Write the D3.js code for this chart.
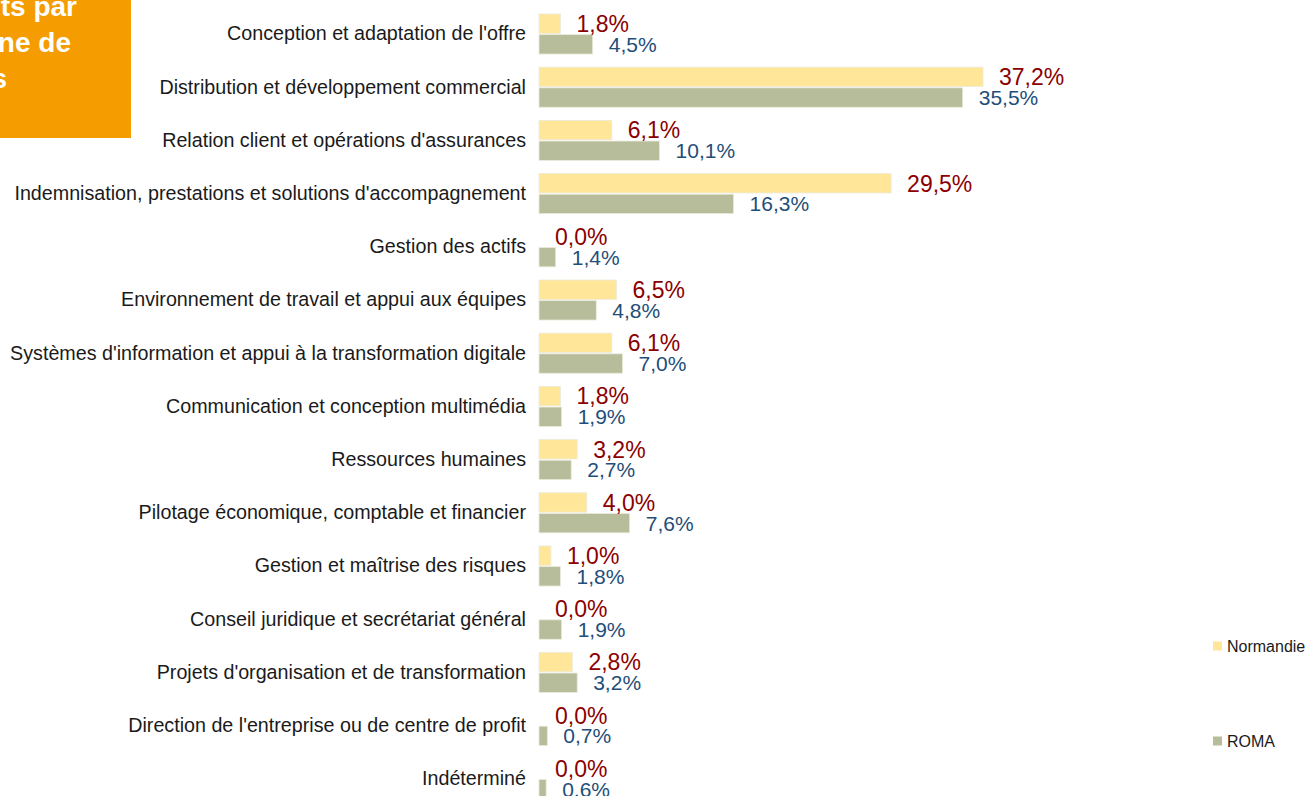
<!DOCTYPE html>
<html><head><meta charset="utf-8">
<script src="https://cdn.jsdelivr.net/npm/d3@7/dist/d3.min.js"></script>
<style>
html,body{margin:0;padding:0;background:#fff;overflow:hidden;}
svg{display:block;font-family:"Liberation Sans",Arial,sans-serif;}
</style></head>
<body>
<svg id="chart" width="1316" height="796"></svg>
<script>
const categories = [
  "Conception et adaptation de l'offre",
  "Distribution et développement commercial",
  "Relation client et opérations d'assurances",
  "Indemnisation, prestations et solutions d'accompagnement",
  "Gestion des actifs",
  "Environnement de travail et appui aux équipes",
  "Systèmes d'information et appui à la transformation digitale",
  "Communication et conception multimédia",
  "Ressources humaines",
  "Pilotage économique, comptable et financier",
  "Gestion et maîtrise des risques",
  "Conseil juridique et secrétariat général",
  "Projets d'organisation et de transformation",
  "Direction de l'entreprise ou de centre de profit",
  "Indéterminé"
];
const seriesNames = ["Normandie", "ROMA"];
const normandie = [1.8, 37.2, 6.1, 29.5, 0.0, 6.5, 6.1, 1.8, 3.2, 4.0, 1.0, 0.0, 2.8, 0.0, 0.0];
const roma      = [4.5, 35.5, 10.1, 16.3, 1.4, 4.8, 7.0, 1.9, 2.7, 7.6, 1.8, 1.9, 3.2, 0.7, 0.6];
const titleLines = ["Répartition des recrutements par", "domaine de", "métiers"];

const colors = {Normandie: "#FFE699", ROMA: "#B7BD9B"};
const labelColors = {Normandie: "#8B0000", ROMA: "#1F4E79"};
const labelSizes = {Normandie: 23, ROMA: 21};

const svg = d3.select("#chart");

// Title box (partially cut)
svg.append("rect").attr("x", 0).attr("y", 0).attr("width", 131).attr("height", 138).attr("fill", "#F59C00");
const tEnds = [77, 71, 7];
const tBase = [16, 52, 88];
titleLines.forEach((t, i) => {
  svg.append("text").attr("x", tEnds[i]).attr("y", tBase[i])
    .attr("text-anchor", "end").attr("fill", "#fff").attr("font-weight", "bold")
    .attr("font-size", 28).text(t);
});

const x = d3.scaleLinear().domain([0, 37.2]).range([539, 983]);
const y = d3.scaleBand().domain(categories).range([7.4, 805.4]).paddingInner(0.2).paddingOuter(0.1);
const ySub = d3.scaleBand().domain(seriesNames).range([0, y.bandwidth()]).padding(0.06);

const data = categories.map((c, i) => ({cat: c, vals: [
  {s: "Normandie", v: normandie[i]}, {s: "ROMA", v: roma[i]}]}));

const fmt = v => d3.format(".1f")(v).replace(".", ",") + "%";

const g = svg.append("g");
const rows = g.selectAll("g.row").data(data).join("g")
  .attr("transform", d => `translate(0,${y(d.cat)})`);

rows.selectAll("rect").data(d => d.vals).join("rect")
  .attr("x", x(0)).attr("y", d => ySub(d.s))
  .attr("width", d => x(d.v) - x(0)).attr("height", ySub.bandwidth())
  .attr("fill", d => colors[d.s])
  .attr("stroke", "#ecebdc").attr("stroke-width", 0.8);

rows.selectAll("text.val").data(d => d.vals).join("text").attr("class", "val")
  .attr("x", d => x(d.v) + 16)
  .attr("y", d => ySub(d.s) + ySub.bandwidth() / 2)
  .attr("dy", "0.36em")
  .attr("font-size", d => labelSizes[d.s])
  .attr("fill", d => labelColors[d.s])
  .text(d => fmt(d.v));

// Category axis labels
const yAxis = d3.axisLeft(y).tickSize(0).tickPadding(0);
const ax = svg.append("g").attr("transform", "translate(526,0)").call(yAxis);
ax.select(".domain").remove();
ax.selectAll("text").attr("font-size", 19.7).attr("fill", "#1a1a1a")
  .attr("font-family", '"Liberation Sans",Arial,sans-serif');

// Legend
const legY = {Normandie: 646, ROMA: 741};
seriesNames.forEach(s => {
  svg.append("rect").attr("x", 1213).attr("y", legY[s] - 4.5).attr("width", 9).attr("height", 9).attr("fill", colors[s]);
  svg.append("text").attr("x", 1227).attr("y", legY[s]).attr("dy", "0.36em")
    .attr("font-size", 16).attr("fill", "#1a1a1a").text(s);
});
</script>
</body></html>
